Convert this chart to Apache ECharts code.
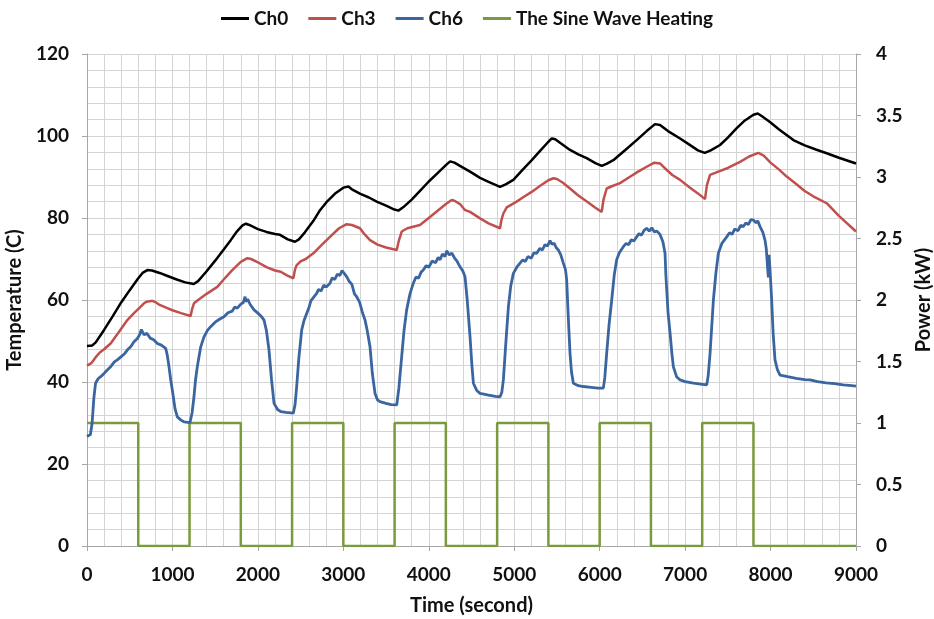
<!DOCTYPE html>
<html>
<head>
<meta charset="utf-8">
<script src="https://cdn.jsdelivr.net/npm/echarts@6/dist/echarts.min.js"></script>
<style>
  html, body { margin: 0; padding: 0; background: #fff; overflow: hidden; }
  #chart { width: 934px; height: 619px; }
</style>
</head>
<body>
<div id="chart"></div>
<script>
// Thermocouple readings (time in s, temperature in C)
var ch0 = [[0,48.8],[60,48.9],[100,49.6],[200,52.7],[300,56],[400,59.4],[500,62.4],[600,65.3],[650,66.6],[706,67.3],[760,67.2],[850,66.6],[950,65.8],[1050,65],[1150,64.3],[1250,63.9],[1300,64.6],[1400,67],[1500,69.6],[1600,72.3],[1682,74.6],[1750,76.6],[1820,78.2],[1860,78.6],[1900,78.3],[2000,77.3],[2100,76.6],[2200,76.1],[2259,75.9],[2350,74.8],[2434,74.2],[2480,74.8],[2550,76.5],[2650,79.3],[2727,81.9],[2800,83.8],[2900,85.9],[3000,87.4],[3059,87.7],[3100,87],[3200,85.9],[3300,85],[3390,84],[3500,83],[3580,82.2],[3644,81.8],[3700,82.6],[3800,84.5],[3900,86.7],[4000,88.9],[4100,90.9],[4200,92.9],[4250,93.8],[4300,93.5],[4400,92.3],[4483,91.3],[4600,89.8],[4700,88.8],[4834,87.6],[4900,88.2],[4990,89.3],[5100,91.8],[5200,94],[5300,96.3],[5400,98.6],[5440,99.4],[5480,99.2],[5560,98],[5653,96.6],[5750,95.5],[5848,94.6],[5950,93.4],[6024,92.7],[6080,93.2],[6160,94.1],[6300,96.6],[6433,99],[6550,101.2],[6648,102.9],[6706,102.7],[6800,101.2],[6941,99.4],[7050,97.9],[7150,96.5],[7230,95.9],[7300,96.5],[7409,97.8],[7500,99.6],[7604,101.9],[7700,103.8],[7800,105.2],[7850,105.5],[7900,104.8],[8000,103.3],[8100,101.6],[8267,99],[8400,97.7],[8530,96.7],[8657,95.8],[8800,94.7],[9000,93.3]];

var ch3 = [[0,44],[50,44.6],[100,46],[150,47.2],[200,48],[277,49.4],[350,51.5],[400,53],[472,55.1],[550,56.8],[620,58.2],[667,59.2],[700,59.6],[765,59.8],[800,59.5],[850,58.8],[940,58],[1000,57.5],[1100,56.8],[1213,56.1],[1230,57.8],[1252,59.2],[1300,60],[1400,61.5],[1525,63.2],[1600,65],[1700,67.3],[1800,69.3],[1876,70.2],[1920,70],[2000,69.2],[2100,68],[2200,67.2],[2267,66.9],[2340,66],[2415,65.3],[2435,67.5],[2454,68.5],[2500,69.4],[2560,70],[2649,71.4],[2750,73.5],[2850,75.5],[2950,77.5],[3039,78.5],[3100,78.3],[3195,77.5],[3250,76],[3312,74.6],[3400,73.5],[3500,72.8],[3625,72.2],[3650,74.5],[3683,76.7],[3750,77.5],[3897,78.3],[4000,80],[4100,81.7],[4200,83.4],[4268,84.4],[4300,84.2],[4366,83.4],[4420,82],[4483,81.5],[4600,79.9],[4700,78.7],[4834,77.5],[4850,79.5],[4873,81.1],[4912,82.6],[5029,84],[5100,85],[5200,86.3],[5300,87.8],[5400,89.2],[5458,89.7],[5500,89.5],[5570,88.6],[5653,87.2],[5750,85.5],[5850,84],[5950,82.5],[6024,81.5],[6045,84.5],[6082,87.2],[6150,87.8],[6238,88.5],[6350,90],[6450,91.3],[6550,92.5],[6640,93.5],[6706,93.3],[6760,92.2],[6850,90.5],[6941,89.3],[7050,87.5],[7150,86],[7233,84.6],[7255,88],[7292,90.5],[7389,91.3],[7500,92.2],[7643,93.7],[7750,95],[7857,95.9],[7920,95.2],[8000,93.5],[8100,91.8],[8189,90.1],[8300,88.3],[8400,86.6],[8500,85.3],[8657,83.6],[8800,80.5],[9000,76.7]];

var ch6 = [[0,26.7],[40,27.2],[60,30],[80,36],[100,39.7],[130,40.8],[160,41.3],[200,42.1],[240,43],[280,43.8],[320,44.9],[355,45.4],[400,46.2],[440,46.9],[480,48],[511,48.6],[550,49.8],[590,50.6],[620,51.7],[636,52.8],[650,52.2],[667,51.5],[700,51.9],[740,50.7],[780,50.3],[823,49.4],[870,49],[921,48.2],[940,46.5],[960,43.7],[980,40.5],[999,38],[1030,33.5],[1057,31.5],[1100,30.7],[1135,30.3],[1205,30.1],[1230,32.5],[1252,36.4],[1270,40.5],[1291,43.7],[1330,48.5],[1369,51],[1410,52.6],[1447,53.5],[1500,54.6],[1550,55.3],[1603,55.9],[1650,56.9],[1700,57.3],[1730,58.3],[1759,58],[1800,59],[1830,59.4],[1850,60.8],[1857,59.6],[1880,60.2],[1910,58.9],[1955,57.6],[2000,56.8],[2040,56],[2072,55.1],[2100,52.5],[2130,47.8],[2160,40.5],[2189,34.8],[2230,33.3],[2267,32.8],[2330,32.6],[2415,32.4],[2435,34.5],[2454,38.9],[2480,46],[2513,52.7],[2540,55],[2571,56.7],[2600,58.3],[2620,59.8],[2640,59.4],[2660,60.9],[2688,61.6],[2710,62.6],[2740,62.2],[2770,63.6],[2800,63.2],[2844,64.1],[2870,65.4],[2900,65],[2930,66.3],[2960,66],[2985,67.2],[3000,66.9],[3039,65.7],[3070,64.5],[3100,63.8],[3130,61.5],[3156,60.8],[3190,59.5],[3220,57.2],[3254,55.1],[3280,52.5],[3312,48.6],[3340,42],[3371,37.2],[3400,35.6],[3429,35.2],[3500,34.8],[3560,34.5],[3625,34.4],[3650,38.5],[3683,46.2],[3710,52.5],[3741,57.6],[3780,61.5],[3819,64.1],[3850,65.6],[3880,65.3],[3910,66.8],[3936,67.3],[3970,68.4],[4000,68],[4040,69.5],[4080,69.1],[4110,70.4],[4132,69.8],[4160,71.2],[4190,70.6],[4210,72],[4240,71],[4270,71.4],[4300,70.3],[4330,69.5],[4366,68.1],[4400,67],[4424,65.7],[4450,60],[4483,51],[4505,44],[4522,39.7],[4560,38],[4600,37.2],[4700,36.8],[4780,36.5],[4834,36.4],[4855,37.5],[4873,40.5],[4900,49],[4932,58.4],[4960,63.5],[4990,66.5],[5030,68],[5068,69],[5100,69.8],[5130,69.4],[5160,70.6],[5200,70.2],[5230,71.5],[5263,71.4],[5300,72.6],[5330,72.2],[5360,73.5],[5390,73.2],[5419,74.5],[5440,73.6],[5470,73.8],[5490,72.8],[5516,72.2],[5545,71],[5575,69],[5600,67.4],[5614,64.9],[5630,57],[5653,47],[5670,42.5],[5692,39.7],[5750,39.1],[5809,38.9],[5900,38.7],[5980,38.5],[6043,38.5],[6060,41],[6082,47],[6110,54],[6141,60],[6170,66],[6199,69.8],[6230,71.5],[6277,73],[6310,73.8],[6340,73.5],[6370,74.7],[6400,74.4],[6433,75.4],[6460,76.2],[6490,75.8],[6520,77],[6550,77.5],[6580,76.8],[6610,77.6],[6640,76.6],[6670,76.8],[6706,76],[6740,74.2],[6765,71.4],[6775,66],[6785,62.4],[6800,57],[6824,51.9],[6845,47],[6863,43.7],[6900,41.3],[6941,40.5],[7000,40.1],[7097,39.7],[7180,39.5],[7253,39.3],[7270,41.5],[7292,47],[7310,53],[7331,60],[7360,66.5],[7389,71.4],[7430,73.8],[7487,75.4],[7520,76.4],[7550,76],[7580,77.3],[7620,76.9],[7650,78.2],[7682,77.9],[7710,78.8],[7740,78.4],[7770,79.6],[7799,79.5],[7830,78.8],[7850,79.3],[7877,77.9],[7910,76.5],[7935,74.6],[7950,72.5],[7965,68],[7974,65.5],[7982,71],[7995,67],[8013,60],[8030,52],[8052,45.4],[8080,43],[8111,41.7],[8200,41.3],[8300,40.9],[8400,40.6],[8462,40.5],[8550,40.1],[8650,39.8],[8750,39.6],[8850,39.3],[8950,39.1],[9000,39]];

// Heater power switching: [time when level changes, new level in kW]
var heating = [[0,1],[600,0],[1200,1],[1800,0],[2400,1],[3000,0],[3600,1],[4200,0],[4800,1],[5400,0],[6000,1],[6600,0],[7200,1],[7800,0],[9000,0]];

var seriesNames = ['Ch0', 'Ch3', 'Ch6', 'The Sine Wave Heating'];
var seriesColors = ['#000000', '#C0504D', '#3A65A0', '#7A9A3E'];

var FONT = 'Lato';
var labelBase = { color: '#111', fontFamily: FONT, fontWeight: 'bold', fontSize: 19 };
var nameStyle = { color: '#111', fontFamily: FONT, fontWeight: 'bold', fontSize: 20 };
var gridColor = '#d4d4d4';
var axisColor = '#a6a6a6';

function plainNumber(v) { return String(v); }

var chart = echarts.init(document.getElementById('chart'), null, { renderer: 'canvas' });

chart.setOption({
  animation: false,
  backgroundColor: '#ffffff',
  color: seriesColors,
  legend: {
    top: 4,
    left: 'center',
    data: seriesNames,
    icon: 'rect',
    itemWidth: 28,
    itemHeight: 3,
    itemGap: 20,
    textStyle: { color: '#111', fontFamily: FONT, fontWeight: 'bold', fontSize: 19 }
  },
  grid: { left: 87, right: 78, top: 54, bottom: 73, containLabel: false, outerBoundsMode: 'none' },
  xAxis: {
    type: 'value',
    min: 0, max: 9000, interval: 1000,
    name: 'Time (second)',
    nameLocation: 'middle',
    nameGap: 50,
    nameTextStyle: nameStyle,
    axisLine: { show: true, lineStyle: { color: axisColor } },
    axisTick: { show: true, length: 5, lineStyle: { color: axisColor } },
    axisLabel: Object.assign({ margin: 19, formatter: plainNumber }, labelBase),
    splitLine: { lineStyle: { color: gridColor, width: 1 } },
    minorTick: { show: false, splitNumber: 5 },
    minorSplitLine: { show: true, lineStyle: { color: gridColor, width: 1 } }
  },
  yAxis: [
    {
      type: 'value',
      min: 0, max: 120, interval: 20,
      name: 'Temperature (C)',
      nameLocation: 'middle',
      nameGap: 54,
      nameRotate: 90,
      nameTextStyle: nameStyle,
      axisLine: { show: true, lineStyle: { color: axisColor } },
      axisTick: { show: true, length: 5, lineStyle: { color: axisColor } },
      axisLabel: Object.assign({ margin: 18, formatter: plainNumber }, labelBase),
      splitLine: { lineStyle: { color: gridColor, width: 1 } },
      minorTick: { show: false, splitNumber: 5 },
      minorSplitLine: { show: true, lineStyle: { color: gridColor, width: 1 } }
    },
    {
      type: 'value',
      min: 0, max: 4, interval: 0.5,
      name: 'Power (kW)',
      nameLocation: 'middle',
      nameGap: 56,
      nameRotate: 90,
      nameTextStyle: nameStyle,
      position: 'right',
      axisLine: { show: true, lineStyle: { color: axisColor } },
      axisTick: { show: true, length: 5, lineStyle: { color: axisColor } },
      axisLabel: Object.assign({ margin: 20, formatter: plainNumber }, labelBase),
      splitLine: { show: false }
    }
  ],
  series: [
    { name: seriesNames[0], type: 'line', data: ch0, showSymbol: false, lineStyle: { width: 2.5, color: seriesColors[0] }, z: 4 },
    { name: seriesNames[1], type: 'line', data: ch3, showSymbol: false, lineStyle: { width: 2.5, color: seriesColors[1] }, z: 3 },
    { name: seriesNames[2], type: 'line', data: ch6, showSymbol: false, lineStyle: { width: 2.8, color: seriesColors[2] }, z: 2 },
    { name: seriesNames[3], type: 'line', yAxisIndex: 1, step: 'end', data: heating, showSymbol: false, lineStyle: { width: 2.5, color: seriesColors[3] }, z: 1 }
  ]
});
</script>
</body>
</html>
